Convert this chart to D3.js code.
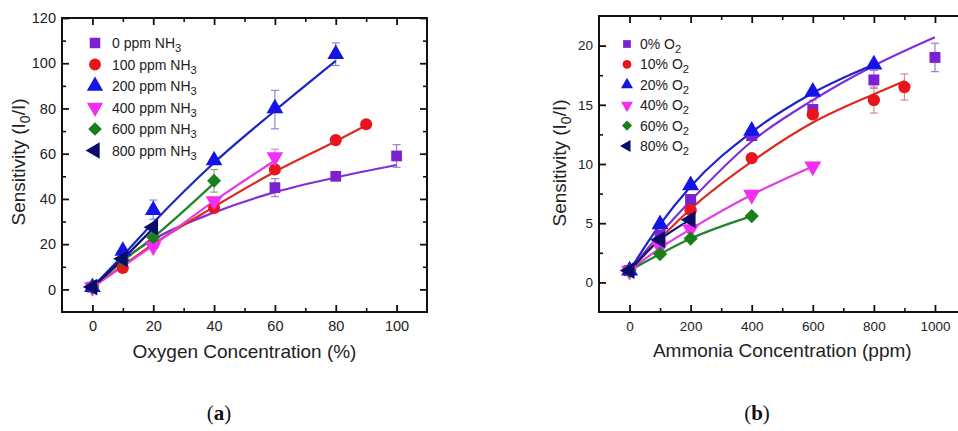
<!DOCTYPE html>
<html>
<head>
<meta charset="utf-8">
<script src="https://cdn.jsdelivr.net/npm/d3@7"></script>
<style>
  body { margin: 0; background: #fff; }
  svg { display: block; }
</style>
</head>
<body>
<script>
var width = 958, height = 431;

// panel (a): sensitivity vs oxygen concentration
var oxyNames = ["0 ppm NH", "100 ppm NH", "200 ppm NH", "400 ppm NH", "600 ppm NH", "800 ppm NH"];
var oxyPts0   = [[0, 1], [60, 45], [80, 50], [100, 59]];
var oxyPts100 = [[0, 1], [10, 9.5], [20, 20], [40, 36], [60, 53], [80, 66], [90, 73]];
var oxyPts200 = [[0, 1], [10, 17], [20, 35], [40, 57], [60, 80], [80, 104]];
var oxyPts400 = [[0, 1], [20, 19], [40, 39], [60, 58.5]];
var oxyPts600 = [[0, 1], [10, 13], [20, 23], [40, 48]];
var oxyPts800 = [[0, 1], [10, 13.5], [20, 27.5]];
// fitted / joining lines
var oxyFit0   = [[0, 1], [10, 13], [20, 22], [40, 34], [60, 43], [80, 49.5], [100, 55]];
var oxyFit100 = [[0, 1], [10, 10.5], [20, 20], [40, 36.5], [60, 52], [80, 65.5], [90, 72.5]];
var oxyFit200 = [[0, 1], [10, 15], [20, 29.5], [40, 56], [60, 79], [80, 101]];
var oxyFit400 = [[0, 1], [20, 19.5], [40, 39], [60, 57]];
var oxyFit600 = [[0, 1], [10, 12.5], [20, 23], [40, 47]];
var oxyFit800 = [[0, 1], [10, 13.5], [20, 27]];
var oxyErr = [[0, 60, 41, 49], [0, 100, 54, 64], [2, 20, 31, 39.5], [2, 60, 71, 88], [2, 80, 99, 109], [4, 40, 43, 53], [3, 60, 55, 62]];

// panel (b): sensitivity vs ammonia concentration
var nh3Names = ["0% O", "10% O", "20% O", "40% O", "60% O", "80% O"];
var nh3Pts0  = [[0, 1], [100, 4.0], [200, 7.0], [400, 12.4], [600, 14.6], [800, 17.1], [1000, 19.0]];
var nh3Pts10 = [[0, 1], [100, 3.3], [200, 6.1], [400, 10.5], [600, 14.2], [800, 15.4], [900, 16.5]];
var nh3Pts20 = [[0, 1], [100, 4.9], [200, 8.2], [400, 12.8], [600, 16.1], [800, 18.4]];
var nh3Pts40 = [[0, 1], [100, 3.0], [200, 4.5], [400, 7.4], [600, 9.8]];
var nh3Pts60 = [[0, 1], [100, 2.4], [200, 3.7], [400, 5.6]];
var nh3Pts80 = [[0, 1], [100, 3.6], [200, 5.3]];
var nh3Fit0  = [[0, 1], [100, 4.1], [200, 6.9], [400, 11.9], [600, 15.4], [800, 18.3], [1000, 20.7]];
var nh3Fit10 = [[0, 1], [100, 3.7], [200, 6.2], [400, 10.2], [600, 13.5], [800, 15.9], [900, 17.0]];
var nh3Fit20 = [[0, 1], [100, 4.9], [200, 8.1], [400, 12.7], [600, 16.0], [800, 18.4]];
var nh3Fit40 = [[0, 1], [100, 2.9], [200, 4.5], [400, 7.4], [600, 9.8]];
var nh3Fit60 = [[0, 1], [100, 2.4], [200, 3.7], [400, 5.6]];
var nh3Fit80 = [[0, 1], [100, 3.6], [200, 5.3]];
var nh3Err = [[0, 600, 13.9, 15.4], [0, 800, 16.4, 17.9], [0, 1000, 17.8, 20.2], [1, 800, 14.3, 16.5], [1, 900, 15.4, 17.6]];

var markerColor = ["#7a22d2", "#e8161c", "#1414e6", "#f22ef2", "#17801a", "#0b0b6b"];
var lineColor   = ["#8030d8", "#dc2a1e", "#1c24c8", "#e23ce2", "#22842a", "#101070"];
var errColor    = ["#9c7ccf", "#d88a86", "#8a8ad8", "#dd8ade", "#7fae7f", "#7a7aa8"];

var svg = d3.select("body").append("svg")
    .attr("width", width)
    .attr("height", height);

function symbolPath(i, size) {
  // square, circle, up, down, diamond, left
  var types = [d3.symbolSquare, d3.symbolCircle, d3.symbolTriangle, d3.symbolTriangle, d3.symbolSquare, d3.symbolTriangle];
  return d3.symbol().type(types[i]).size(size)();
}
var symbolRot = [0, 0, 0, 180, 45, -90];
var symbolScale = [1, 1, 1.05, 1.05, 0.85, 1.05];

function drawPanel(cfg) {
  var g = svg.append("g");
  var x = d3.scaleLinear().domain(cfg.xDomain).range([cfg.left, cfg.right]);
  var y = d3.scaleLinear().domain(cfg.yDomain).range([cfg.bottom, cfg.top]);

  // inward major + minor ticks on all four sides
  var axes = [
    [d3.axisBottom(x), "translate(0," + cfg.bottom + ")", cfg.xMajor, true],
    [d3.axisTop(x), "translate(0," + cfg.top + ")", cfg.xMajor, false],
    [d3.axisLeft(y), "translate(" + cfg.left + ",0)", cfg.yMajor, true],
    [d3.axisRight(y), "translate(" + cfg.right + ",0)", cfg.yMajor, false]
  ];
  var minors = [
    [d3.axisBottom(x), "translate(0," + cfg.bottom + ")", cfg.xMinor],
    [d3.axisTop(x), "translate(0," + cfg.top + ")", cfg.xMinor],
    [d3.axisLeft(y), "translate(" + cfg.left + ",0)", cfg.yMinor],
    [d3.axisRight(y), "translate(" + cfg.right + ",0)", cfg.yMinor]
  ];
  minors.forEach(function(a) {
    var ax = g.append("g").attr("transform", a[1])
        .call(a[0].tickValues(a[2]).tickSize(-4).tickFormat(""));
    ax.select(".domain").remove();
    ax.selectAll("line").attr("stroke", "#111").attr("stroke-width", 1.6);
  });
  axes.forEach(function(a, k) {
    var ax = g.append("g").attr("transform", a[1])
        .call(a[0].tickValues(a[2]).tickSize(-7).tickPadding(k == 0 ? 9 : 6)
          .tickFormat(a[3] ? d3.format("d") : ""));
    ax.select(".domain").remove();
    ax.selectAll("line").attr("stroke", "#111").attr("stroke-width", 1.8);
    ax.selectAll("text")
        .attr("font-family", "Liberation Sans, Arial, sans-serif")
        .attr("font-size", cfg.tickFont)
        .attr("fill", "#222");
  });

  g.append("rect")
      .attr("x", cfg.left).attr("y", cfg.top)
      .attr("width", cfg.right - cfg.left).attr("height", cfg.bottom - cfg.top)
      .attr("fill", "none").attr("stroke", "#111").attr("stroke-width", 2);

  var line = d3.line()
      .x(function(d) { return x(d[0]); })
      .y(function(d) { return y(d[1]); })
      .curve(d3.curveMonotoneX);

  // error bars
  cfg.err.forEach(function(e) {
    var eg = g.append("g").attr("stroke", errColor[e[0]]).attr("stroke-width", 1.2);
    eg.append("line").attr("x1", x(e[1])).attr("x2", x(e[1])).attr("y1", y(e[2])).attr("y2", y(e[3]));
    eg.append("line").attr("x1", x(e[1]) - 4).attr("x2", x(e[1]) + 4).attr("y1", y(e[2])).attr("y2", y(e[2]));
    eg.append("line").attr("x1", x(e[1]) - 4).attr("x2", x(e[1]) + 4).attr("y1", y(e[3])).attr("y2", y(e[3]));
  });

  cfg.fits.forEach(function(f, i) {
    g.append("path")
        .attr("d", line(f))
        .attr("fill", "none")
        .attr("stroke", lineColor[i])
        .attr("stroke-width", 2.2);
  });

  cfg.pts.forEach(function(p, i) {
    g.append("g").selectAll("path")
        .data(p)
        .enter().append("path")
        .attr("d", symbolPath(i, cfg.markSize * symbolScale[i]))
        .attr("transform", function(d) {
          return "translate(" + x(d[0]) + "," + y(d[1]) + ") rotate(" + symbolRot[i] + ")";
        })
        .attr("fill", markerColor[i]);
  });

  // legend
  cfg.names.forEach(function(n, i) {
    var ly = cfg.legY + i * cfg.legStep;
    g.append("path")
        .attr("d", symbolPath(i, cfg.legSize * symbolScale[i]))
        .attr("transform", "translate(" + cfg.legX + "," + ly + ") rotate(" + symbolRot[i] + ")")
        .attr("fill", markerColor[i]);
    var t = g.append("text")
        .attr("x", cfg.legX + cfg.legGap).attr("y", ly + 5)
        .attr("font-family", "Liberation Sans, Arial, sans-serif")
        .attr("font-size", cfg.legFont)
        .attr("fill", "#222");
    t.append("tspan").text(n);
    t.append("tspan").attr("dy", 4).attr("font-size", cfg.legFont * 0.8).text(cfg.sub);
  });

  // axis titles
  g.append("text")
      .attr("x", (cfg.left + cfg.right) / 2 + cfg.xTitleShift).attr("y", cfg.xTitleY)
      .attr("text-anchor", "middle")
      .attr("font-family", "Liberation Sans, Arial, sans-serif")
      .attr("font-size", 19).attr("fill", "#222")
      .text(cfg.xTitle);
  var yt = g.append("text")
      .attr("transform", "translate(" + cfg.yTitleX + "," + cfg.yTitleY + ") rotate(-90)")
      .attr("text-anchor", "middle")
      .attr("font-family", "Liberation Sans, Arial, sans-serif")
      .attr("font-size", 19).attr("fill", "#222");
  yt.append("tspan").text("Sensitivity (I");
  yt.append("tspan").attr("dy", 5).attr("font-size", 14).text("0");
  yt.append("tspan").attr("dy", -5).text("/I)");

  // caption
  var cap = svg.append("text")
      .attr("x", cfg.capX).attr("y", 420)
      .attr("text-anchor", "middle")
      .attr("font-family", "Liberation Serif, Times New Roman, serif")
      .attr("font-size", 21).attr("fill", "#111");
  cap.append("tspan").text("(");
  cap.append("tspan").attr("font-weight", "bold").text(cfg.cap);
  cap.append("tspan").text(")");
}

drawPanel({
  left: 62, right: 427, top: 18, bottom: 312,
  xDomain: [-10, 110], yDomain: [-10, 120],
  xMajor: [0, 20, 40, 60, 80, 100], xMinor: [10, 30, 50, 70, 90],
  yMajor: [0, 20, 40, 60, 80, 100, 120], yMinor: [10, 30, 50, 70, 90, 110],
  tickFont: 14.5,
  pts: [oxyPts0, oxyPts100, oxyPts200, oxyPts400, oxyPts600, oxyPts800],
  fits: [oxyFit0, oxyFit100, oxyFit200, oxyFit400, oxyFit600, oxyFit800],
  err: oxyErr,
  markSize: 115,
  names: oxyNames, sub: "3",
  legX: 95, legY: 43, legStep: 21.5, legGap: 17, legFont: 14, legSize: 110,
  xTitle: "Oxygen Concentration (%)", xTitleY: 358, xTitleShift: 0,
  yTitleX: 25, yTitleY: 162,
  capX: 219, cap: "a"
});

drawPanel({
  left: 599, right: 965.5, top: 16, bottom: 312,
  xDomain: [-100, 1100], yDomain: [-2.5, 22.5],
  xMajor: [0, 200, 400, 600, 800, 1000], xMinor: [100, 300, 500, 700, 900],
  yMajor: [0, 5, 10, 15, 20], yMinor: [2.5, 7.5, 12.5, 17.5],
  tickFont: 13.5,
  pts: [nh3Pts0, nh3Pts10, nh3Pts20, nh3Pts40, nh3Pts60, nh3Pts80],
  fits: [nh3Fit0, nh3Fit10, nh3Fit20, nh3Fit40, nh3Fit60, nh3Fit80],
  err: nh3Err,
  markSize: 120,
  names: nh3Names, sub: "2",
  legX: 627, legY: 44, legStep: 20.4, legGap: 13, legFont: 14, legSize: 60,
  xTitle: "Ammonia Concentration (ppm)", xTitleY: 357, xTitleShift: 0,
  yTitleX: 566, yTitleY: 163,
  capX: 757, cap: "b"
});
</script>
</body>
</html>
